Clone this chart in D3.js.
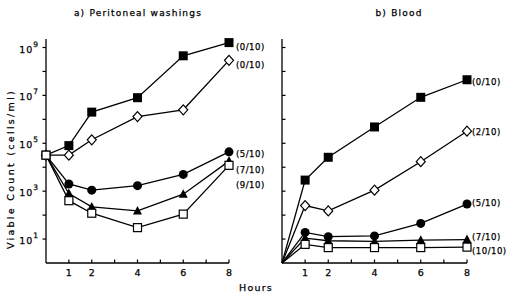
<!DOCTYPE html>
<html>
<head>
<meta charset="utf-8">
<script src="https://cdn.jsdelivr.net/npm/d3@7"></script>
<style>
  body { margin: 0; background: #fff; }
  text { font-family: "DejaVu Sans", sans-serif; fill: #000; stroke: #000; stroke-width: 0.25; }
</style>
</head>
<body>
<svg id="chart"></svg>
<script>
// sampling times (hours)
const hours = [0, 1, 2, 4, 6, 8];
const xTicks = [1, 2, 4, 6, 8];
const yLabelExps = [1, 3, 5, 7, 9];

// a) Peritoneal washings, viable count (cells/ml)
const periSqFilled = [3.2e4, 8e4, 2e6, 8e6, 4.5e8, 1.6e9];
const periDiamond  = [3.2e4, 3.2e4, 1.4e5, 1.3e6, 2.5e6, 2.9e8];
const periCircle   = [3.2e4, 2e3, 1.1e3, 1.7e3, 5e3, 4.4e4];
const periTriangle = [3.2e4, 8e2, 2.2e2, 1.5e2, 7.5e2, 1.8e4];
const periSqOpen   = [3.2e4, 4e2, 1.2e2, 3e1, 1.1e2, 1.2e4];
const periLabels   = ['(0/10)', '(0/10)', '(5/10)', '(7/10)', '(9/10)'];

// b) Blood
const bloodSqFilled = [1, 2.9e3, 2.6e4, 4.8e5, 8.3e6, 4.5e7];
const bloodDiamond  = [1, 2.5e2, 1.5e2, 1.1e3, 1.7e4, 3.2e5];
const bloodCircle   = [1, 19, 12.6, 13.5, 45, 290];
const bloodTriangle = [1, 11, 8.5, 8, 9, 9.5];
const bloodSqOpen   = [1, 6, 4.4, 4.4, 4.4, 4.6];
const bloodLabels   = ['(0/10)', '(2/10)', '(5/10)', '(7/10)', '(10/10)'];

const markers = ['sqFilled', 'diamond', 'circle', 'triangle', 'sqOpen'];

const svg = d3.select('#chart').attr('width', 513).attr('height', 297);

const y = d3.scaleLog().domain([1, 1e9]).range([263, 47.5]);
const yTop = 39;

function drawMarker(g, type, cx, cy) {
  if (type === 'sqFilled') {
    g.append('rect').attr('x', cx - 4.5).attr('y', cy - 4.5).attr('width', 9).attr('height', 9).attr('fill', '#000');
  } else if (type === 'sqOpen') {
    g.append('rect').attr('x', cx - 4).attr('y', cy - 4).attr('width', 8).attr('height', 8)
      .attr('fill', '#fff').attr('stroke', '#000').attr('stroke-width', 1.2);
  } else if (type === 'diamond') {
    g.append('path').attr('d', `M${cx},${cy - 5}L${cx + 4.5},${cy}L${cx},${cy + 5}L${cx - 4.5},${cy}Z`)
      .attr('fill', '#fff').attr('stroke', '#000').attr('stroke-width', 1.2);
  } else if (type === 'circle') {
    g.append('circle').attr('cx', cx).attr('cy', cy).attr('r', 4.5).attr('fill', '#000');
  } else if (type === 'triangle') {
    g.append('path').attr('d', `M${cx},${cy - 5}L${cx + 4.5},${cy + 3.5}L${cx - 4.5},${cy + 3.5}Z`).attr('fill', '#000');
  }
}

function drawPanel(cfg) {
  const x = d3.scaleLinear().domain([0, 8]).range([cfg.x0, cfg.x1]);
  const g = svg.append('g');

  // axes
  g.append('line').attr('x1', x(0)).attr('x2', x(0)).attr('y1', yTop).attr('y2', y(1))
    .attr('stroke', '#000').attr('stroke-width', 1.3);
  g.append('line').attr('x1', x(0)).attr('x2', x(8)).attr('y1', y(1)).attr('y2', y(1))
    .attr('stroke', '#000').attr('stroke-width', 1.3);

  // x ticks every hour, pointing up
  d3.range(1, 9).forEach(h => {
    g.append('line').attr('x1', x(h)).attr('x2', x(h)).attr('y1', y(1)).attr('y2', y(1) - 3.5)
      .attr('stroke', '#000').attr('stroke-width', 1.2);
  });
  xTicks.forEach(h => {
    g.append('text').attr('x', x(h)).attr('y', y(1) + 13).attr('text-anchor', 'middle')
      .attr('font-size', 9.5).text(h);
  });

  // y ticks every decade
  d3.range(1, 10).forEach(e => {
    const dx = cfg.yTickIn ? 3.5 : -3.5;
    g.append('line').attr('x1', x(0)).attr('x2', x(0) + dx).attr('y1', y(10 ** e)).attr('y2', y(10 ** e))
      .attr('stroke', '#000').attr('stroke-width', 1.2);
  });
  if (cfg.yLabels) {
    yLabelExps.forEach(e => {
      const t = g.append('text').attr('x', x(0) - 7).attr('y', y(10 ** e) + 5)
        .attr('text-anchor', 'end').attr('font-size', 9.5).attr('letter-spacing', 1);
      t.append('tspan').text('10');
      t.append('tspan').attr('dy', -6).attr('font-size', 7.5).text(e);
    });
  }

  // series
  const line = d3.line().x((d, i) => x(hours[i])).y(d => y(d));
  cfg.series.forEach(s => {
    g.append('path').datum(s).attr('d', line).attr('fill', 'none')
      .attr('stroke', '#000').attr('stroke-width', 1.3);
  });
  cfg.series.forEach((s, k) => {
    s.forEach((v, i) => {
      if (i === 0 && cfg.skipFirst) return;
      drawMarker(g, markers[k], x(hours[i]), y(v));
    });
  });

  // end labels
  cfg.labels.forEach((lab, k) => {
    g.append('text').attr('x', x(8) + cfg.labelDx).attr('y', cfg.labelY[k] + 3.5)
      .attr('font-size', 8.5).attr('letter-spacing', 0.5).text(lab);
  });

  // title
  g.append('text').attr('x', cfg.titleX).attr('y', 16).attr('text-anchor', 'middle')
    .attr('font-size', 9).attr('letter-spacing', 1.2).text(cfg.title);
}

drawPanel({
  x0: 46, x1: 229, series: [periSqFilled, periDiamond, periCircle, periTriangle, periSqOpen],
  labels: periLabels, labelY: [46, 64, 153, 169, 184], labelDx: 7, yLabels: true, yTickIn: false,
  skipFirst: false, title: 'a) Peritoneal washings', titleX: 138
});
drawPanel({
  x0: 282, x1: 467, series: [bloodSqFilled, bloodDiamond, bloodCircle, bloodTriangle, bloodSqOpen],
  labels: bloodLabels, labelY: [81, 131, 202, 236, 250], labelDx: 5, yLabels: false, yTickIn: true,
  skipFirst: true, title: 'b) Blood', titleX: 399
});

// axis titles
svg.append('text').attr('transform', 'translate(14,169) rotate(-90)').attr('text-anchor', 'middle')
  .attr('font-size', 9.5).attr('letter-spacing', 2.3).text('Viable Count (cells/ml)');
svg.append('text').attr('x', 256).attr('y', 291).attr('text-anchor', 'middle')
  .attr('font-size', 9.5).attr('letter-spacing', 1.2).text('Hours');
</script>
</body>
</html>
